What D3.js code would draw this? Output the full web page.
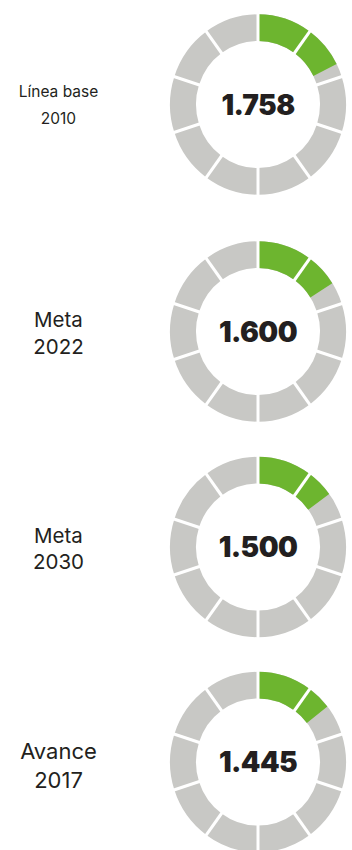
<!DOCTYPE html>
<html>
<head>
<meta charset="utf-8">
<script src="https://cdn.jsdelivr.net/npm/d3@7"></script>
<style>
  html, body { margin: 0; padding: 0; background: #fff; }
  svg { display: block; }
</style>
</head>
<body>
<svg id="chart" width="352" height="850"></svg>
<script>
// Indicator values per milestone
const periods = ["Línea base 2010", "Meta 2022", "Meta 2030", "Avance 2017"];
const labelLines = [["Línea base", "2010"], ["Meta", "2022"], ["Meta", "2030"], ["Avance", "2017"]];
const values = [1758, 1600, 1500, 1445];
const segmentCount = 10;
const segmentSize = 1000;

const svg = d3.select("#chart");

const locale = d3.formatLocale({ decimal: ",", thousands: ".", grouping: [3], currency: ["$", ""] });
const fmt = locale.format(",d");

// Layout
const cx = 258;
const rowCenters = [104.5, 331.5, 547, 762];
const outerR = 88;
const innerR = 62;
const ringStretch = 1.025;
const labelX = 58.5;
const labelSizes = [15.5, 20.5, 20.5, 22];
const labelBaselines = [[-8, 19.5], [-4.5, 22.5], [-4, 22], [-3, 26]];

const angle = d3.scaleLinear().domain([0, segmentCount * segmentSize]).range([0, 2 * Math.PI]);
const arc = d3.arc().innerRadius(innerR).outerRadius(outerR);
const segments = d3.range(segmentCount).map(i => ({ start: i * segmentSize, end: (i + 1) * segmentSize }));

periods.forEach((p, k) => {
  const v = values[k];
  const cy = rowCenters[k];
  const ring = svg.append("g").attr("transform", `translate(${cx},${cy}) scale(1,${ringStretch})`);

  // gray base segments
  ring.selectAll("path.base").data(segments).join("path")
    .attr("class", "base")
    .attr("d", d => arc({ startAngle: angle(d.start), endAngle: angle(d.end) }))
    .attr("fill", "#c8c8c5");

  // filled portion
  ring.selectAll("path.fill").data(segments.filter(d => d.start < v)).join("path")
    .attr("class", "fill")
    .attr("d", d => arc({ startAngle: angle(d.start), endAngle: angle(Math.min(v, d.end)) }))
    .attr("fill", "#6db52f");

  // white separators between segments
  ring.selectAll("line.sep").data(segments).join("line")
    .attr("class", "sep")
    .attr("x1", d => (innerR - 2) * Math.sin(angle(d.start)))
    .attr("y1", d => -(innerR - 2) * Math.cos(angle(d.start)))
    .attr("x2", d => (outerR + 2) * Math.sin(angle(d.start)))
    .attr("y2", d => -(outerR + 2) * Math.cos(angle(d.start)))
    .attr("stroke", "#fff")
    .attr("stroke-width", 3);

  // central value
  svg.append("text")
    .attr("x", cx)
    .attr("y", cy)
    .attr("text-anchor", "middle")
    .attr("dy", "0.36em")
    .attr("font-family", "Inter, 'Noto Sans', sans-serif")
    .attr("font-weight", 900)
    .attr("font-size", 28)
    .attr("letter-spacing", -0.6)
    .attr("fill", "#231f20")
    .text(fmt(v));

  // side label
  const lab = svg.append("text")
    .attr("text-anchor", "middle")
    .attr("font-family", "Inter, 'Noto Sans', sans-serif")
    .attr("font-size", labelSizes[k])
    .attr("fill", "#231f20");
  labelLines[k].forEach((t, j) => {
    lab.append("tspan")
      .attr("x", labelX)
      .attr("y", cy + labelBaselines[k][j])
      .text(t);
  });
});
</script>
</body>
</html>
